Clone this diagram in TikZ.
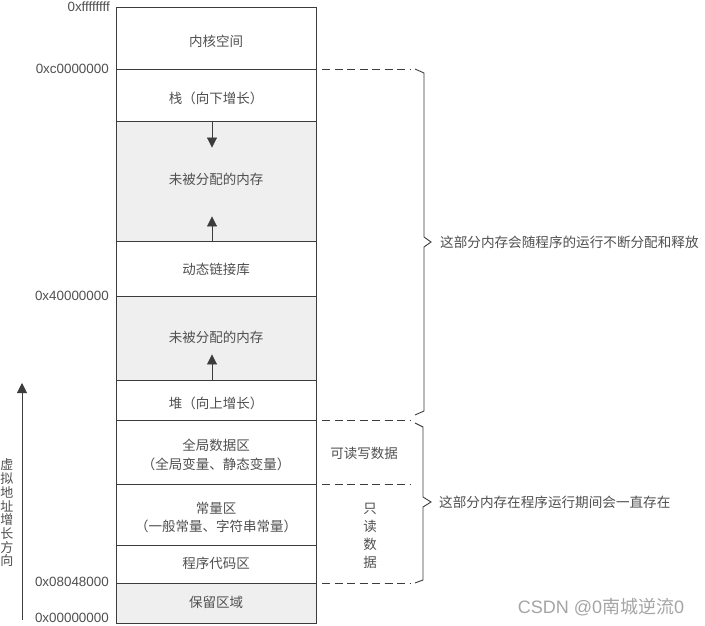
\documentclass[tikz,border=0pt]{standalone}
\usepackage{fontspec}
\setmainfont{Liberation Sans}
\newfontfamily\cjk{Noto Sans CJK SC}
\usetikzlibrary{arrows.meta,calc}
\definecolor{lc}{RGB}{60,60,60}
\definecolor{tc}{RGB}{80,80,80}
\definecolor{gf}{RGB}{239,239,239}
\definecolor{wm}{RGB}{165,165,165}
\newcommand{\celltxt}[2][0pt]{\raisebox{-#1}[\height][\depth]{\begin{tabular}{@{}c@{}}#2\end{tabular}}}
\begin{document}
\begin{tikzpicture}[x=1pt,y=-1pt,
  cell/.style={draw=lc, line width=0.9pt, minimum width=200pt, inner sep=0pt,
    font=\cjk\fontsize{13.5}{18.5}\selectfont, text=tc},
  freecell/.style={cell, fill=gf},
  addr/.style={anchor=east, inner sep=0pt, font=\fontsize{13.4}{15}\selectfont, text=tc},
  note/.style={anchor=west, inner sep=0pt, font=\cjk\fontsize{13.6}{16}\selectfont, text=tc},
  sep/.style={draw=lc, line width=0.9pt, dash pattern=on 8pt off 4.5pt},
  brc/.style={draw=lc, line width=0.9pt},
  growarrow/.style={draw=lc, line width=0.9pt, -{Triangle[length=10pt,width=10pt]}}]
\useasboundingbox (0,0) rectangle (705,626);
\fill[white] (0,0) rectangle (705,626);

% memory cells
\node[cell, minimum height=62pt] (kern) at (216,38) {\celltxt[5pt]{内核空间}};
\node[cell, minimum height=52pt] (stack) at (216,95) {\celltxt[5pt]{栈（向下增长）}};
\node[freecell, minimum height=120pt] (free1) at (216,181) {\celltxt[0pt]{未被分配的内存}};
\node[cell, minimum height=55pt] (dyn) at (216,268.5) {\celltxt[2pt]{动态链接库}};
\node[freecell, minimum height=84pt] (free2) at (216,338) {\celltxt[1pt]{未被分配的内存}};
\node[cell, minimum height=40pt] (heap) at (216,400) {\celltxt[4.5pt]{堆（向上增长）}};
\node[cell, minimum height=64pt] (glob) at (216,452) {\celltxt[4.5pt]{全局数据区\\（全局变量、静态变量）}};
\node[cell, minimum height=61pt] (const) at (216,514.5) {\celltxt[4.5pt]{常量区\\（一般常量、字符串常量）}};
\node[cell, minimum height=38pt] (code) at (216,564) {\celltxt[1pt]{程序代码区}};
\node[freecell, minimum height=40pt] (res) at (216,603) {\celltxt[1pt]{保留区域}};

% growth arrows
\draw[growarrow] ([xshift=-4pt]free1.north) -- ++(0,27);
\draw[growarrow] ([xshift=-4pt]free1.south) -- ++(0,-25);
\draw[growarrow] ([xshift=-4pt]free2.south) -- ++(0,-26);

% addresses
\node[addr] (aff) at (110,7) {0xffffffff};
\node[addr] (ac0) at (109,69) {0xc0000000};
\node[addr] (a40) at (109,296) {0x40000000};
\node[addr] (a08) at (109,582) {0x08048000};
\node[addr] (a00) at (109,618) {0x00000000};

% dashed separators
\coordinate (d1a) at (322,69);  \coordinate (d1b) at (410,69);
\coordinate (d2a) at (322,420.5); \coordinate (d2b) at (410,420.5);
\coordinate (d3a) at (322,484); \coordinate (d3b) at (410,484);
\coordinate (d4a) at (322,583.5); \coordinate (d4b) at (410,583.5);
\draw[sep] (d1a) -- (d1b);
\draw[sep] (d2a) -- (d2b);
\draw[sep] (d3a) -- (d3b);
\draw[sep] (d4a) -- (d4b);

% access labels
\node[inner sep=0pt, font=\cjk\fontsize{13.5}{16}\selectfont, text=tc] (rw) at (364,453) {可读写数据};
\node[inner sep=0pt, align=center, font=\cjk\fontsize{13.5}{18}\selectfont, text=tc] (ro) at (370,536) {只\\读\\数\\据};

% braces
\draw[brc] (415,69) -- (424,73) -- (424,237) -- (431,242) -- (424,247) -- (424,411) -- (415,415);
\draw[brc] (415,423) -- (423,427) -- (423,497) -- (431,502) -- (423,507) -- (423,580) -- (415,583);
\node[note] (n1) at (440,242) {这部分内存会随程序的运行不断分配和释放};
\node[note] (n2) at (439,502) {这部分内存在程序运行期间会一直存在};

% address growth direction
\coordinate (gb) at (22,620);
\coordinate (gt) at (22,383);
\draw[growarrow] (gb) -- (gt);
\node[inner sep=0pt, align=center, font=\cjk\fontsize{13}{13.7}\selectfont, text=tc] (dir) at (7,513) {虚\\拟\\地\\址\\增\\长\\方\\向};

% watermark
\node[inner sep=0pt, font=\fontsize{18}{20}\selectfont, text=wm] (wmk) at (601,607) {CSDN @0{\cjk 南城逆流}0};
\end{tikzpicture}
\end{document}
